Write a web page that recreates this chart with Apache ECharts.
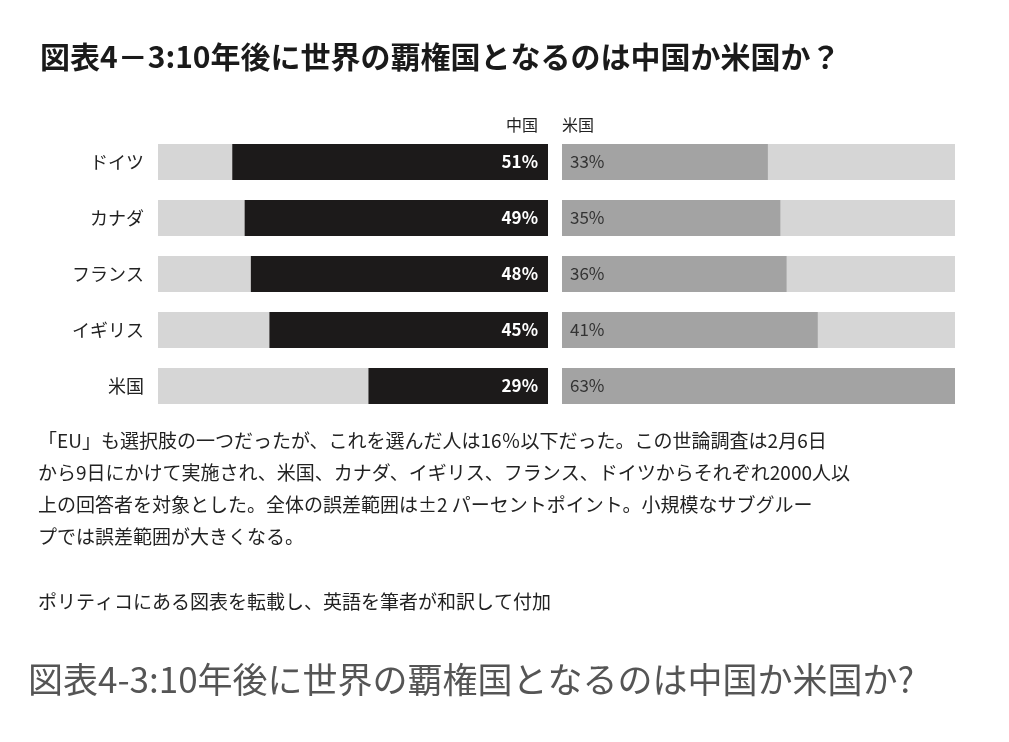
<!DOCTYPE html><html><head><meta charset="utf-8">
<script src="https://cdn.jsdelivr.net/npm/echarts@6/dist/echarts.min.js"></script>
<style>body{margin:0;background:#fff}#c{width:1009px;height:742px}</style></head><body><div id="c"></div>
<script>
const categories=['ドイツ','カナダ','フランス','イギリス','米国'];
const china=[51,49,48,45,29];
const usa=[33,35,36,41,63];
const maxVal=63;
const bg=categories.map(()=>maxVal);
const F='"Noto Sans CJK JP","Noto Sans",sans-serif';
const chart=echarts.init(document.getElementById('c'));
const cat={type:'category',data:categories,inverse:true,axisLine:{show:false},axisTick:{show:false}};
chart.setOption({
animation:false,
grid:[{left:158,width:390,top:134,height:280},{left:562,width:393,top:134,height:280}],
xAxis:[{gridIndex:0,type:'value',min:0,max:maxVal,inverse:true,show:false},{gridIndex:1,type:'value',min:0,max:maxVal,show:false}],
yAxis:[Object.assign({gridIndex:0,axisLabel:{fontFamily:F,fontSize:18,color:'#222',margin:14}},cat),Object.assign({gridIndex:1,axisLabel:{show:false}},cat)],
series:[
{type:'bar',xAxisIndex:0,yAxisIndex:0,data:bg,barWidth:36,itemStyle:{color:'#d6d6d6'},silent:true},
{type:'bar',xAxisIndex:0,yAxisIndex:0,data:china,barWidth:36,barGap:'-100%',itemStyle:{color:'#1c1a1a'},
 label:{show:true,position:'insideRight',formatter:'{c}%',color:'#fff',fontFamily:F,fontSize:17,fontWeight:'bold',distance:10}},
{type:'bar',xAxisIndex:1,yAxisIndex:1,data:bg,barWidth:36,itemStyle:{color:'#d6d6d6'},silent:true},
{type:'bar',xAxisIndex:1,yAxisIndex:1,data:usa,barWidth:36,barGap:'-100%',itemStyle:{color:'#a3a3a3'},
 label:{show:true,position:'insideLeft',formatter:'{c}%',color:'#333',fontFamily:F,fontSize:17,distance:8}}
],
graphic:[
{type:'text',left:40,top:42,style:{text:'図表4－3:10年後に世界の覇権国となるのは中国か米国か？',font:'bold 30px '+F,fill:'#1a1a1a'}},
{type:'text',left:506,top:117,style:{text:'中国',font:'16px '+F,fill:'#222'}},
{type:'text',left:562,top:117,style:{text:'米国',font:'16px '+F,fill:'#222'}},
{type:'text',left:38,top:425,style:{text:'「EU」も選択肢の一つだったが、これを選んだ人は16％以下だった。この世論調査は2月6日\nから9日にかけて実施され、米国、カナダ、イギリス、フランス、ドイツからそれぞれ2000人以\n上の回答者を対象とした。全体の誤差範囲は±2 パーセントポイント。小規模なサブグルー\nプでは誤差範囲が大きくなる。',font:'19px '+F,fill:'#222',lineHeight:32}},
{type:'text',left:38,top:592,style:{text:'ポリティコにある図表を転載し、英語を筆者が和訳して付加',font:'19px '+F,fill:'#222'}},
{type:'text',left:28,top:662,style:{text:'図表4-3:10年後に世界の覇権国となるのは中国か米国か?',font:'35px '+F,fill:'#555'}}
]});
</script></body></html>
